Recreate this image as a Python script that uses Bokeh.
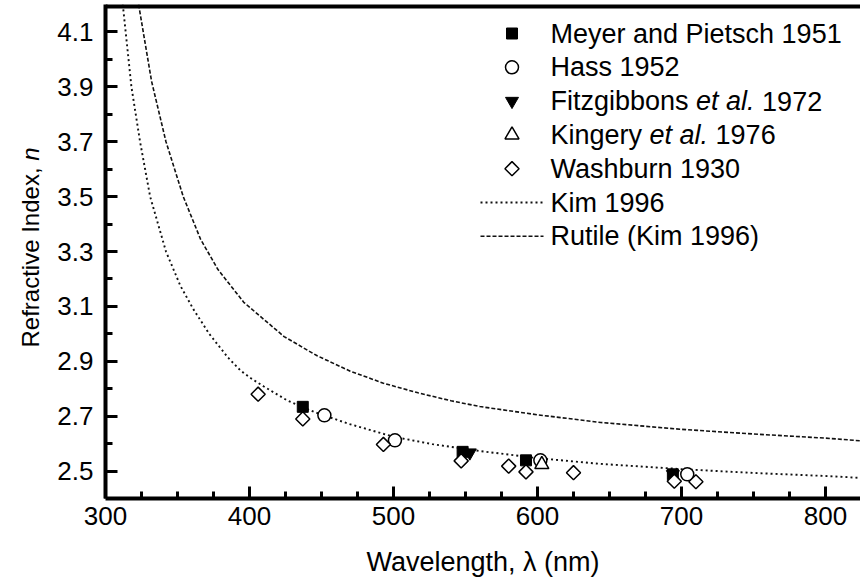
import math
from bokeh.plotting import figure
from bokeh.layouts import row
from bokeh.models import Range1d, FixedTicker, Span, Label
from bokeh.embed import file_html
from bokeh.resources import INLINE

# Kim 1996 model curve
kim_wl = [312, 318, 324, 331, 342, 352, 361, 372, 385, 394, 401, 410, 426, 445, 469,
          500, 527, 560, 600, 644, 700, 750, 800, 825]
kim_n = [4.20, 3.90, 3.70, 3.50, 3.30, 3.175, 3.09, 3.00, 2.914, 2.865, 2.838, 2.808,
         2.758, 2.715, 2.672, 2.625, 2.598, 2.573, 2.547, 2.526, 2.507, 2.493, 2.482,
         2.475]
# Rutile (Kim 1996)
rut_wl = [323, 332, 342, 354, 366, 378, 396, 424, 447, 470, 493, 517, 540, 560,
          600, 644, 700, 750, 800, 825]
rut_n = [4.20, 3.92, 3.70, 3.50, 3.345, 3.235, 3.115, 2.99, 2.92, 2.864, 2.82, 2.785,
         2.756, 2.735, 2.705, 2.677, 2.652, 2.635, 2.62, 2.61]

meyer_wl = [437, 548, 592, 694]
meyer_n = [2.734, 2.570, 2.539, 2.488]
hass_wl = [452, 501, 602, 704]
hass_n = [2.703, 2.612, 2.539, 2.488]
fitz_wl = [553, 694]
fitz_n = [2.567, 2.488]
king_wl = [603]
king_n = [2.524]
wash_wl = [406, 437, 493, 547, 580, 592, 625, 695, 710]
wash_n = [2.780, 2.690, 2.597, 2.537, 2.518, 2.497, 2.494, 2.463, 2.461]

x_major = [300, 400, 500, 600, 700, 800]
x_minor = [325, 350, 375, 425, 450, 475, 525, 550, 575, 625, 650, 675, 725, 750, 775]
y_major = [2.5, 2.7, 2.9, 3.1, 3.3, 3.5, 3.7, 3.9, 4.1]
y_minor = [2.6, 2.8, 3.0, 3.2, 3.4, 3.6, 3.8, 4.0]

# legend texts: (piece, style) segments
legend_texts = [
    [("Meyer and Pietsch 1951", "normal")],
    [("Hass 1952", "normal")],
    [("Fitzgibbons", "normal"), ("et al.", "italic"), ("1972", "normal")],
    [("Kingery", "normal"), ("et al.", "italic"), ("1976", "normal")],
    [("Washburn 1930", "normal")],
    [("Kim 1996", "normal")],
    [("Rutile (Kim 1996)", "normal")],
]
y_label_pieces = [("Refractive Index,", "normal"), ("n", "italic")]
x_label = "Wavelength, \u03bb (nm)"

FONT = "Liberation Sans"
H = 582
LW = 45                 # narrow side figure holding the y-axis title
W = 815                 # main figure
LEFT, TOP, BOTTOM = 60, 4, 84
FW, FH = W - LEFT, H - TOP - BOTTOM

# approximate Arial / Liberation Sans advance widths (em)
ADV = {' ': .278, '.': .278, ',': .278, '(': .333, ')': .333}
for ch in "0123456789":
    ADV[ch] = .556
ADV.update({'F': .611, 'K': .667, 'M': .833, 'H': .722, 'W': .944, 'R': .722, 'I': .278,
            'P': .667, 'a': .556, 'b': .556, 'c': .5, 'd': .556, 'e': .556, 'f': .278,
            'g': .556, 'h': .556, 'i': .222, 'k': .5, 'l': .222, 'm': .833, 'n': .556,
            'o': .556, 'p': .556, 'r': .333, 's': .5, 't': .278, 'u': .556, 'v': .5,
            'x': .5, 'y': .5, 'z': .5})


def text_w(s, size):
    return sum(ADV.get(c, .556) for c in s) * size


# ---- side figure with the y-axis title (italic n); frame matches main frame ----
p0 = figure(width=LW, height=H, output_backend="svg", toolbar_location=None,
            x_range=Range1d(0, LW), y_range=Range1d(0, FH),
            min_border_left=0, min_border_right=0, min_border_top=TOP,
            min_border_bottom=BOTTOM)
p0.xaxis.visible = False
p0.yaxis.visible = False
p0.xgrid.visible = False
p0.ygrid.visible = False
p0.outline_line_color = None
YL_SIZE = 24
ypos = (TOP + FH) - 347.0      # bottom end of the title, measured up from frame bottom
for piece, style in y_label_pieces:
    p0.add_layout(Label(x=30, y=ypos, text=piece, angle=math.pi / 2, text_align="left",
                        text_baseline="middle", text_font=FONT,
                        text_font_size=f"{YL_SIZE}px", text_font_style=style,
                        text_color="black"))
    ypos += text_w(piece + " ", YL_SIZE)

# ---- main figure ----
p = figure(width=W, height=H, output_backend="svg", toolbar_location=None,
           x_range=Range1d(300, 300 + FW / 1.44), y_range=Range1d(2.4, 4.2),
           min_border_left=LEFT, min_border_right=0, min_border_top=TOP,
           min_border_bottom=BOTTOM)
p.extra_x_ranges = {"key_x": Range1d(0, FW)}
p.extra_y_ranges = {"key_y": Range1d(FH, 0)}
p.outline_line_color = None
p.xgrid.visible = False
p.ygrid.visible = False
p.background_fill_color = "white"

for ax in (p.xaxis[0], p.yaxis[0]):
    ax.axis_line_width = 4
    ax.axis_line_color = "black"
    ax.major_tick_line_width = 3
    ax.minor_tick_line_width = 3
    ax.major_tick_line_color = "black"
    ax.minor_tick_line_color = "black"
    ax.major_tick_in = 12
    ax.major_tick_out = 0
    ax.minor_tick_in = 7
    ax.minor_tick_out = 0
    ax.major_label_text_font = FONT
    ax.major_label_text_font_size = "26px"
    ax.major_label_text_color = "black"
    ax.axis_label_text_font = FONT
    ax.axis_label_text_font_size = "27px"
    ax.axis_label_text_font_style = "normal"
    ax.axis_label_text_color = "black"

p.xaxis.ticker = FixedTicker(ticks=x_major, minor_ticks=x_minor)
p.yaxis.ticker = FixedTicker(ticks=y_major, minor_ticks=y_minor)
p.xaxis.major_label_standoff = 8
p.yaxis.major_label_standoff = 12
p.xaxis.axis_label = x_label
p.xaxis.axis_label_standoff = 19

# top frame line (half of it is clipped by the frame)
p.add_layout(Span(location=4.2, dimension="width", line_color="black", line_width=8))

lc = "#111111"
p.line(kim_wl, kim_n, line_color=lc, line_width=1.9, line_dash="2 3")
p.line(rut_wl, rut_n, line_color=lc, line_width=1.6, line_dash="4 2")

styles = [
    dict(marker="square", size=11, fill_color="black", line_width=1),
    dict(marker="circle", size=13, fill_color="white", line_width=1.5),
    dict(marker="inverted_triangle", size=13, fill_color="black", line_width=1),
    dict(marker="triangle", size=14, fill_color="white", line_width=1.5),
    dict(marker="square", size=10, angle=math.pi / 4, fill_color="white", line_width=1.5),
]
series = [(meyer_wl, meyer_n), (hass_wl, hass_n), (fitz_wl, fitz_n),
          (king_wl, king_n), (wash_wl, wash_n)]
for (xs, ys), st in zip(series, styles):
    p.scatter(xs, ys, line_color="black", **st)

# manual legend (key positions in pixel coordinates of the frame)
ROW0, ROWSTEP = 29, 33.8
KEY_X0, KEY_X1, TXT_X = 375, 438, 445
LEG_SIZE = 27
rows = [ROW0 + i * ROWSTEP for i in range(len(legend_texts))]
for i, st in enumerate(styles):
    p.scatter([(KEY_X0 + KEY_X1) / 2], [rows[i]], x_range_name="key_x",
              y_range_name="key_y", line_color="black", **st)
p.line([KEY_X0, KEY_X1], [rows[5], rows[5]], x_range_name="key_x", y_range_name="key_y",
       line_color=lc, line_width=1.9, line_dash="2 3")
p.line([KEY_X0, KEY_X1], [rows[6], rows[6]], x_range_name="key_x", y_range_name="key_y",
       line_color=lc, line_width=1.6, line_dash="4 2")
for i, pieces in enumerate(legend_texts):
    x = TXT_X
    for piece, style in pieces:
        p.add_layout(Label(x=x, y=rows[i], x_range_name="key_x", y_range_name="key_y",
                           text=piece, text_align="left", text_baseline="middle",
                           text_font=FONT, text_font_size=f"{LEG_SIZE}px",
                           text_font_style=style, text_color="black"))
        x += text_w(piece + " ", LEG_SIZE)

layout = row(p0, p)
open("out.html", "w").write(file_html(layout, INLINE))
